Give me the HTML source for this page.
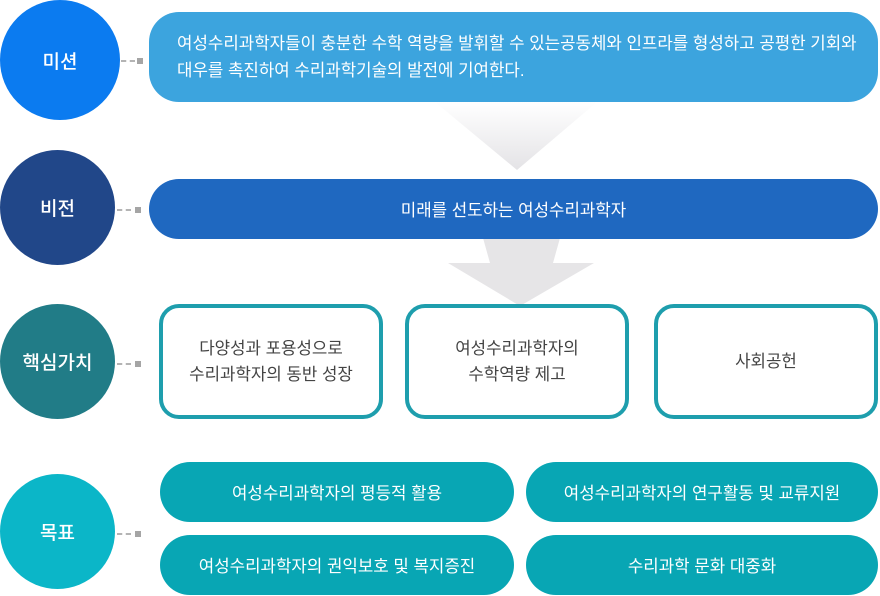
<!DOCTYPE html>
<html><head><meta charset="utf-8"><style>
body{margin:0;width:880px;height:596px;background:#fff;position:relative;overflow:hidden;font-family:"Liberation Sans","Noto Sans CJK KR",sans-serif}
.a{position:absolute;box-sizing:border-box;display:flex;align-items:center;justify-content:center;text-align:center}
.c{border-radius:50%;color:#fff;font-size:19px;font-weight:500}
.dash{position:absolute;height:0;border-top:2px dashed #b4b4b4;width:14px}
.sq{position:absolute;width:6px;height:6px;background:#a5a5a5}
.core{border:4px solid #1e9ead;border-radius:20px;color:#444;font-size:16.8px;line-height:26px;background:#fff}
.goal{background:#08a6b4;border-radius:30px;color:#fff;font-size:16.8px}
</style></head><body>
<svg width="880" height="596" style="position:absolute;left:0;top:0">
<defs><linearGradient id="g" x1="0" y1="0" x2="0" y2="1"><stop offset="0" stop-color="#fff"/><stop offset="1" stop-color="#e4e3e6"/></linearGradient></defs>
<polygon points="435,102 597,102 517,170" fill="url(#g)"/>
<polygon points="483,238 560,238 553,263 594,263 520,306 448,263 490,263" fill="#e6e5e7"/>
</svg>
<div class="a c" style="left:0;top:0;width:120px;height:120px;background:#0b7bf0">미션</div>
<div class="a c" style="left:0;top:150px;width:115px;height:115px;background:#214789">비전</div>
<div class="a c" style="left:0;top:304px;width:115px;height:115px;background:#217c87">핵심가치</div>
<div class="a c" style="left:0;top:474px;width:115px;height:115px;background:#0bb6c8">목표</div>
<div class="dash" style="left:121px;top:60px"></div><div class="sq" style="left:137px;top:58px"></div>
<div class="dash" style="left:117px;top:209px"></div><div class="sq" style="left:135px;top:207px"></div>
<div class="dash" style="left:117px;top:363px"></div><div class="sq" style="left:135px;top:361px"></div>
<div class="dash" style="left:117px;top:533px"></div><div class="sq" style="left:135px;top:531px"></div>
<div class="a" style="left:149px;top:12px;width:729px;height:90px;background:#3ca4de;border-radius:30px;color:#fff;font-size:16.8px;line-height:27px;justify-content:flex-start;text-align:left;padding-left:28px;white-space:nowrap">여성수리과학자들이 충분한 수학 역량을 발휘할 수 있는공동체와 인프라를 형성하고 공평한 기회와<br>대우를 촉진하여 수리과학기술의 발전에 기여한다.</div>
<div class="a" style="left:149px;top:179px;width:729px;height:60px;background:#1f68c0;border-radius:30px;color:#fff;font-size:16.8px">미래를 선도하는 여성수리과학자</div>
<div class="a core" style="left:159px;top:304px;width:224px;height:115px">다양성과 포용성으로<br>수리과학자의 동반 성장</div>
<div class="a core" style="left:405px;top:304px;width:224px;height:115px">여성수리과학자의<br>수학역량 제고</div>
<div class="a core" style="left:654px;top:304px;width:224px;height:115px">사회공헌</div>
<div class="a goal" style="left:160px;top:462px;width:354px;height:60px">여성수리과학자의 평등적 활용</div>
<div class="a goal" style="left:526px;top:462px;width:352px;height:60px">여성수리과학자의 연구활동 및 교류지원</div>
<div class="a goal" style="left:160px;top:535px;width:354px;height:60px">여성수리과학자의 권익보호 및 복지증진</div>
<div class="a goal" style="left:526px;top:535px;width:352px;height:60px">수리과학 문화 대중화</div>
</body></html>
